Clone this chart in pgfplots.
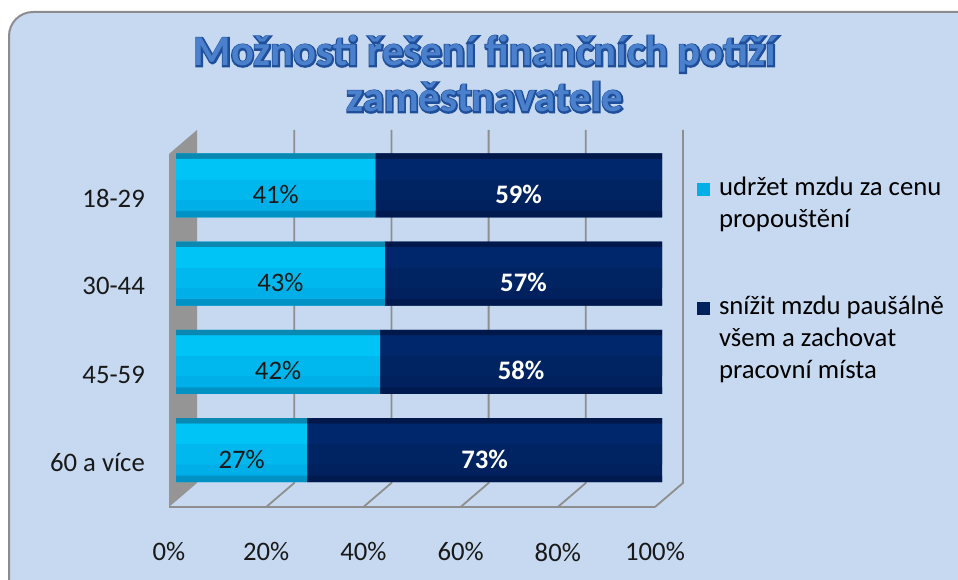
\documentclass[border=0pt]{standalone}
\usepackage{fontspec}
\setmainfont{Carlito}
\newfontface\ttlFill{Carlito Bold}
\newfontface\ttlLine{Carlito Bold}[FakeBold=7]
\usepackage{pgfplots}
\pgfplotsset{compat=1.18}
\usepackage{pgfplotstable}

\definecolor{bg}{HTML}{C6D9F0}
\definecolor{frameC}{HTML}{8C8C8C}
\definecolor{wall}{HTML}{959595}
\definecolor{gridC}{HTML}{8E8E8E}
\definecolor{cyBase}{HTML}{00AFE7}
\definecolor{cyTop}{HTML}{0A88B2}
\definecolor{cyHi}{HTML}{00C4F5}
\definecolor{cyMid}{HTML}{00B7EE}
\definecolor{cyBot}{HTML}{0092C4}
\definecolor{nvBase}{HTML}{00215D}
\definecolor{nvTop}{HTML}{00184A}
\definecolor{nvHi}{HTML}{00276B}
\definecolor{nvMid}{HTML}{002362}
\definecolor{nvBot}{HTML}{001A4F}
\definecolor{ttl}{HTML}{4A80CC}
\definecolor{ttlEdge}{HTML}{1F4F9A}

\newcommand\lbl{\fontsize{26.7}{32}\selectfont}

% pos: 3 = top row (18-29)
\pgfplotstableread{
pos a b
3 41 59
2 43 57
1 42 58
0 27 73
}\data

\pgfplotsset{
  myleg/.style={legend image code/.code={\path[##1] (0pt,0pt) rectangle (13pt,13pt);}},
  /pgf/number format/assume math mode=true,
  baraxis/.style={at={(176pt,85.8pt)}, anchor=south west, width=486pt, height=353pt, scale only axis,
    xmin=0, xmax=100, ymin=-0.5, ymax=3.5, hide axis},
  layer/.style={baraxis, xbar stacked, bar width=#1},
}

\begin{document}
\begin{tikzpicture}[x=1pt,y=1pt]
\useasboundingbox (0,0) rectangle (958,580);
\begin{scope}
\clip (0,0) rectangle (958,580);
\draw[draw=frameC, line width=2pt, fill=bg, rounded corners=24pt] (9,568) rectangle (990,-40);
\end{scope}

% 3D frame: left wall, back grid, floor
\fill[wall] (169,73) -- (169,426) -- (197,450) -- (197,97) -- cycle;
\foreach \k in {1,...,5} {
  \draw[gridC, line width=1.8pt] ({197+97.2*\k},450) -- ({197+97.2*\k},97) -- ({169+97.2*\k},73);
}
\draw[gridC, line width=1.8pt] (169,73) -- (655,73);

% title: dark outline copy, then fill
\node[anchor=base, text=ttlEdge, font=\fontsize{42.7}{46}\selectfont\ttlLine] at (485,514) {Možnosti řešení finančních potíží};
\node[anchor=base, text=ttl, font=\fontsize{42.7}{46}\selectfont\ttlFill] at (485,514) {Možnosti řešení finančních potíží};
\node[anchor=base, text=ttlEdge, font=\fontsize{42.7}{46}\selectfont\ttlLine] at (485,468) {zaměstnavatele};
\node[anchor=base, text=ttl, font=\fontsize{42.7}{46}\selectfont\ttlFill] at (485,468) {zaměstnavatele};

% tick labels on front plane
\begin{axis}[at={(169pt,73pt)}, anchor=south west, width=486pt, height=353pt, scale only axis,
  xmin=0, xmax=100, ymin=-0.5, ymax=3.5,
  axis line style={draw=none}, tick style={draw=none},
  xtick={0,20,40,60,80,100}, xticklabels={0\%,20\%,40\%,60\%,80\%,100\%},
  ytick={0,1,2,3}, yticklabels={60 a více,45-59,30-44,18-29},
  ticklabel style={font=\lbl, text=black!90},
  yticklabel style={anchor=east, inner sep=0pt, xshift=-24pt},
  xticklabel style={anchor=center, inner sep=0pt, yshift=-45pt}]
\end{axis}

% bars: base
\begin{axis}[layer=64pt,
  legend style={at={(axis description cs:1.072,0.904)}, anchor=north west,
    draw=none, fill=none, inner sep=0pt, outer sep=0pt, font=\lbl,
    cells={anchor=base west, inner sep=0pt}, column sep=7pt, row sep=95pt}]
\addplot[draw=none, fill=cyBase, myleg] table[x=a, y=pos] {\data};
\addlegendentry{\parbox[t]{240pt}{udržet mzdu za cenu\\propouštění}}
\addplot[draw=none, fill=nvBase, myleg] table[x=b, y=pos] {\data};
\addlegendentry{\parbox[t]{240pt}{snížit mzdu paušálně\\všem a zachovat\\pracovní místa}}
\end{axis}
% bars: top face
\begin{axis}[layer=5.5pt]
\addplot[draw=none, fill=cyTop, bar shift=29.25pt] table[x=a, y=pos] {\data};
\addplot[draw=none, fill=nvTop, bar shift=29.25pt] table[x=b, y=pos] {\data};
\end{axis}
% bars: highlight
\begin{axis}[layer=21pt]
\addplot[draw=none, fill=cyHi, bar shift=16pt] table[x=a, y=pos] {\data};
\addplot[draw=none, fill=nvHi, bar shift=16pt] table[x=b, y=pos] {\data};
\end{axis}
% bars: middle
\begin{axis}[layer=20pt]
\addplot[draw=none, fill=cyMid, bar shift=-4.5pt] table[x=a, y=pos] {\data};
\addplot[draw=none, fill=nvMid, bar shift=-4.5pt] table[x=b, y=pos] {\data};
\end{axis}
% bars: bottom edge
\begin{axis}[layer=6.5pt]
\addplot[draw=none, fill=cyBot, bar shift=-28.75pt] table[x=a, y=pos] {\data};
\addplot[draw=none, fill=nvBot, bar shift=-28.75pt] table[x=b, y=pos] {\data};
\end{axis}

% value labels
\begin{axis}[baraxis]
\addplot[draw=none, mark=none, point meta=explicit, nodes near coords={\pgfmathprintnumber{\pgfplotspointmeta}\%},
  every node near coord/.style={anchor=center, yshift=-9pt, font=\lbl, text=black!90}]
  table[x expr=\thisrow{a}/2, y=pos, meta=a] {\data};
\addplot[draw=none, mark=none, point meta=explicit, nodes near coords={\pgfmathprintnumber{\pgfplotspointmeta}\%},
  every node near coord/.style={anchor=center, yshift=-9pt, font=\lbl\bfseries, text=white}]
  table[x expr=\thisrow{a}+\thisrow{b}/2, y=pos, meta=b] {\data};
\end{axis}
\end{tikzpicture}
\end{document}
